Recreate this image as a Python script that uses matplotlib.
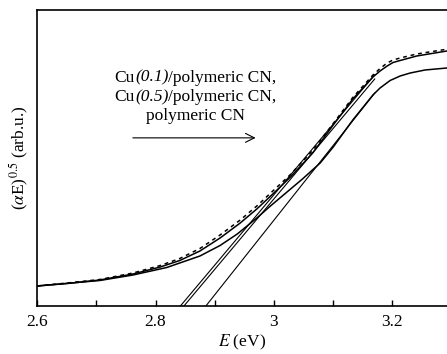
import numpy as np
import matplotlib
matplotlib.use('Agg')
from matplotlib import pyplot as plt
from matplotlib.offsetbox import TextArea, HPacker, VPacker, AnnotationBbox

plt.rcParams['font.family'] = 'Liberation Serif'
plt.rcParams['mathtext.fontset'] = 'stix'

# Cu(0.1)/polymeric CN (dashed) and Cu(0.5)/polymeric CN (solid) share nearly the same x grid
upper_x = [2.600, 2.651, 2.706, 2.762, 2.808, 2.841, 2.875, 2.909, 2.943, 2.971, 2.998,
           3.027, 3.056, 3.066, 3.100, 3.133, 3.167, 3.179, 3.191, 3.201, 3.213, 3.241, 3.292]
cu05_y = [20, 22.5, 26, 32, 39, 45.5, 55, 68, 83, 97, 112,
          128.5, 147, 153.5, 181, 207, 229, 235, 240, 243.5, 245.5, 250, 255]
cu01_y = [20, 23, 26.5, 33, 40.5, 47.5, 57.5, 71, 86, 100, 115,
          131, 149.5, 156, 182.5, 208.5, 231, 237.5, 243, 246, 248, 252, 256.8]

# polymeric CN
cn_x = [2.600, 2.706, 2.762, 2.819, 2.875, 2.909, 2.938, 2.971, 2.993, 3.022, 3.049,
        3.078, 3.100, 3.133, 3.167, 3.179, 3.196, 3.213, 3.230, 3.255, 3.292]
cn_y = [20, 25.5, 31, 38.5, 50, 60.5, 72, 88, 99.5, 114, 127.5,
        143, 159, 186, 211, 218, 225.5, 230, 233, 236, 238]

# linear fits (Tauc extrapolation): x-intercept, slope, end of drawn segment
fit_x0 = [2.842, 2.848, 2.885]
fit_slope = [705, 705, 747]
fit_x1 = [3.17, 3.17, 3.17]

# annotation lines: (prefix, italic part, suffix)
legend_lines = [('Cu', '(0.1)', '/polymeric CN,'),
                ('Cu', '(0.5)', '/polymeric CN,'),
                ('', '', 'polymeric CN')]

fig = plt.figure(figsize=(4.47, 3.54), dpi=100)
ax = fig.add_axes([0.0828, 0.1356, 0.9172, 0.8362])

ax.plot(upper_x, cu01_y, color='black', lw=1.1, ls=(0, (2.5, 2.5)))
ax.plot(upper_x, cu05_y, color='black', lw=1.1)
ax.plot(cn_x, cn_y, color='black', lw=1.1)

for x0, k, x1 in zip(fit_x0, fit_slope, fit_x1):
    xs = np.array([x0, x1])
    ax.plot(xs, k * (xs - x0), color='black', lw=0.8)

ax.set_xlim(2.6, 3.292)
ax.set_ylim(0, 296)
ax.set_xticks([2.6, 2.8, 3.0, 3.2])
ax.set_xticklabels(['2.6', '2.8', '3', '3.2'])
ax.set_xticks([2.7, 2.9, 3.1], minor=True)
ax.set_yticks([])
ax.tick_params(axis='x', which='both', direction='in', length=4, width=1,
               labelsize=12.5, pad=6)
for s in ['left', 'bottom', 'top']:
    ax.spines[s].set_linewidth(1.2)
ax.spines['right'].set_visible(False)

ax.set_xlabel('$E$ (eV)', fontsize=12.5, labelpad=2)
ax.set_ylabel(r'($\alpha$E)$^{0.5}$ (arb.u.)', fontsize=12.5, labelpad=4)

# mixed upright / italic text block
rows = []
for pre, ital, post in legend_lines:
    parts = []
    if pre:
        parts.append(TextArea(pre, textprops=dict(fontsize=12.5)))
    if ital:
        parts.append(TextArea(ital, textprops=dict(fontsize=12.5, style='italic')))
    parts.append(TextArea(post, textprops=dict(fontsize=12.5)))
    rows.append(HPacker(children=parts, align='baseline', pad=0, sep=0))
block = VPacker(children=rows, align='center', pad=0, sep=2.5)
ab = AnnotationBbox(block, (0.387, 0.706), xycoords='axes fraction',
                    frameon=False, box_alignment=(0.5, 0.5))
ax.add_artist(ab)

ax.annotate('', xy=(0.54, 0.568), xytext=(0.227, 0.568), xycoords='axes fraction',
            arrowprops=dict(arrowstyle='->', lw=0.8, color='black', mutation_scale=16))

fig.savefig('out.png', dpi=100)
